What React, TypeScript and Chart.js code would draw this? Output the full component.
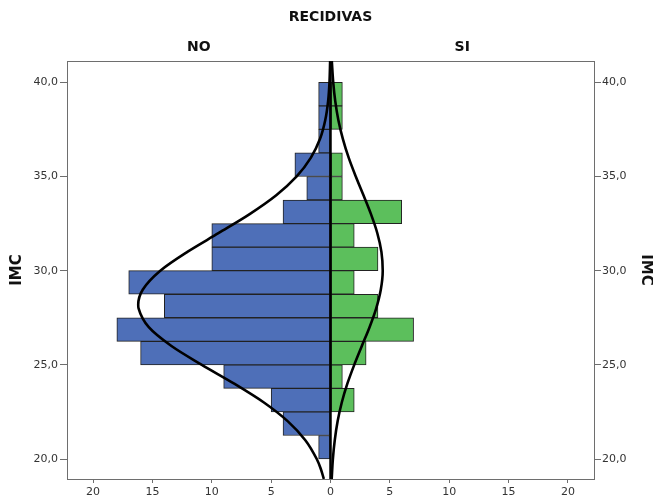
import React, { useEffect, useRef } from 'react';
import { Chart, registerables } from 'chart.js';

Chart.register(...registerables);

// Histogram bins of IMC (midpoints, width 1,25), bottom to top
const imcBins = [
  20.625, 21.875, 23.125, 24.375, 25.625, 26.875, 28.125, 29.375,
  30.625, 31.875, 33.125, 34.375, 35.625, 36.875, 38.125, 39.375,
];
const noCounts = [1, 4, 5, 9, 16, 18, 14, 17, 10, 10, 4, 2, 3, 1, 1, 1];
const siCounts = [0, 0, 2, 1, 3, 7, 4, 2, 4, 2, 6, 1, 1, 0, 1, 1];

// Fitted normal curves (IMC, frequency)
const noCurveImc = [
  18.94, 19.5, 20, 21, 22, 23, 24, 25, 26, 27, 28, 28.2,
  29, 30, 31, 32, 33, 34, 35, 36, 37, 38, 39, 40, 41.13,
];
const noCurveCount = [
  0.56, 0.83, 1.16, 2.12, 3.59, 5.61, 8.11, 10.84, 13.4, 15.31, 16.17, 16.2,
  15.81, 14.34, 12.06, 9.41, 6.81, 4.57, 2.85, 1.65, 0.88, 0.44, 0.2, 0.086, 0.03,
];
const siCurveImc = [
  18.94, 20, 21, 22, 23, 24, 25, 26, 27, 28, 29, 30,
  31, 32, 33, 34, 35, 36, 37, 38, 39, 40, 41.13,
];
const siCurveCount = [
  0.1, 0.2, 0.36, 0.6, 0.95, 1.42, 2.0, 2.64, 3.29, 3.85, 4.24, 4.4,
  4.29, 3.94, 3.41, 2.78, 2.13, 1.53, 1.04, 0.66, 0.4, 0.23, 0.11,
];

const groupLabels = ['NO', 'SI'];
const imcTicks = [20, 25, 30, 35, 40];
const countTicks = [-20, -15, -10, -5, 0, 5, 10, 15, 20];

const IMC_MIN = 18.94;
const IMC_MAX = 41.13;
const COUNT_LIMIT = 22.2;

const FONT = "'DejaVu Sans', Verdana, sans-serif";
const FRAME = '#6e6e6e';
const TEXT = '#333333';

export default function App() {
  const canvasRef = useRef<HTMLCanvasElement | null>(null);

  useEffect(() => {
    const canvas = canvasRef.current;
    if (!canvas) return;

    const imcLabel = (v: number) => v.toFixed(1).replace('.', ',');

    const imcAxis = (position: 'left' | 'right', width: number, labelPad: number, titlePad: number) => ({
      type: 'linear',
      position,
      min: IMC_MIN,
      max: IMC_MAX,
      offset: false,
      afterBuildTicks: (s: any) => {
        s.ticks = imcTicks.map((v) => ({ value: v }));
      },
      afterFit: (s: any) => {
        s.width = width;
      },
      ticks: {
        callback: (v: any) => imcLabel(Number(v)),
        font: { family: FONT, size: 11 },
        color: TEXT,
        padding: labelPad,
        autoSkip: false,
      },
      grid: {
        display: true,
        offset: false,
        drawOnChartArea: false,
        drawTicks: true,
        tickLength: 7,
        tickColor: FRAME,
      },
      border: { display: true, color: FRAME, width: 1 },
      title: {
        display: true,
        text: 'IMC',
        font: { family: FONT, size: 15, weight: 'bold', lineHeight: 1 },
        color: '#111111',
        padding: { top: titlePad, bottom: 0 },
      },
    });

    const curveStyle = {
      type: 'line',
      borderColor: '#000000',
      borderWidth: 2.6,
      pointRadius: 0,
      cubicInterpolationMode: 'monotone',
      fill: false,
      order: 1,
    };

    const barStyle = {
      type: 'bar',
      borderColor: '#222222',
      borderWidth: 1,
      borderSkipped: false,
      grouped: false,
      barPercentage: 1,
      categoryPercentage: 1,
      order: 3,
    };

    const chart = new Chart(canvas, {
      type: 'bar',
      data: {
        datasets: [
          {
            type: 'line',
            label: 'eje',
            data: [
              { x: 0, y: IMC_MIN },
              { x: 0, y: IMC_MAX },
            ],
            borderColor: '#000000',
            borderWidth: 2.5,
            pointRadius: 0,
            fill: false,
            order: 0,
          } as any,
          {
            ...curveStyle,
            label: 'NO normal',
            data: noCurveImc.map((y, i) => ({ x: -noCurveCount[i], y })),
          } as any,
          {
            ...curveStyle,
            label: 'SI normal',
            data: siCurveImc.map((y, i) => ({ x: siCurveCount[i], y })),
          } as any,
          {
            ...barStyle,
            label: 'NO',
            data: imcBins.map((y, i) => ({ x: -noCounts[i], y })),
            backgroundColor: '#4e6fb8',
          } as any,
          {
            ...barStyle,
            label: 'SI',
            data: imcBins.map((y, i) => ({ x: siCounts[i], y })),
            backgroundColor: '#5cbf5c',
          } as any,
        ],
      },
      options: {
        indexAxis: 'y',
        responsive: false,
        animation: false,
        devicePixelRatio: 1,
        layout: { padding: 0 },
        plugins: {
          legend: { display: false },
          tooltip: { enabled: false },
        },
        scales: {
          x: {
            type: 'linear',
            position: 'bottom',
            min: -COUNT_LIMIT,
            max: COUNT_LIMIT,
            offset: false,
            afterBuildTicks: (s: any) => {
              s.ticks = countTicks.map((v) => ({ value: v }));
            },
            afterFit: (s: any) => {
              s.height = 22;
            },
            ticks: {
              callback: (v: any) => String(Math.abs(Number(v))),
              font: { family: FONT, size: 11 },
              color: TEXT,
              padding: 3,
              maxRotation: 0,
              autoSkip: false,
            },
            grid: {
              display: true,
              offset: false,
              drawOnChartArea: false,
              drawTicks: true,
              tickLength: 4,
              tickColor: FRAME,
            },
            border: { display: true, color: FRAME, width: 1 },
          },
          x2: {
            type: 'linear',
            position: 'top',
            min: -COUNT_LIMIT,
            max: COUNT_LIMIT,
            offset: false,
            afterBuildTicks: (s: any) => {
              s.ticks = [{ value: -COUNT_LIMIT / 2 }, { value: COUNT_LIMIT / 2 }];
            },
            afterFit: (s: any) => {
              s.height = 61;
            },
            ticks: {
              callback: (_v: any, i: number) => groupLabels[i],
              font: { family: FONT, size: 14, weight: 'bold' },
              color: '#111111',
              padding: 5.6,
              maxRotation: 0,
              autoSkip: false,
            },
            grid: { display: false, drawTicks: false },
            border: { display: true, color: FRAME, width: 1 },
            title: {
              display: true,
              text: 'RECIDIVAS',
              font: { family: FONT, size: 14, weight: 'bold' },
              color: '#111111',
              padding: { top: 8.6, bottom: 0 },
            },
          },
          y: imcAxis('left', 67, 2, 9.5),
          y2: imcAxis('right', 59, 1, 0),
        },
      } as any,
    });

    return () => chart.destroy();
  }, []);

  return (
    <div
      style={{
        position: 'fixed',
        left: 0,
        top: 0,
        width: 653,
        height: 501,
        background: '#ffffff',
      }}
    >
      <canvas ref={canvasRef} width={653} height={501} />
    </div>
  );
}
